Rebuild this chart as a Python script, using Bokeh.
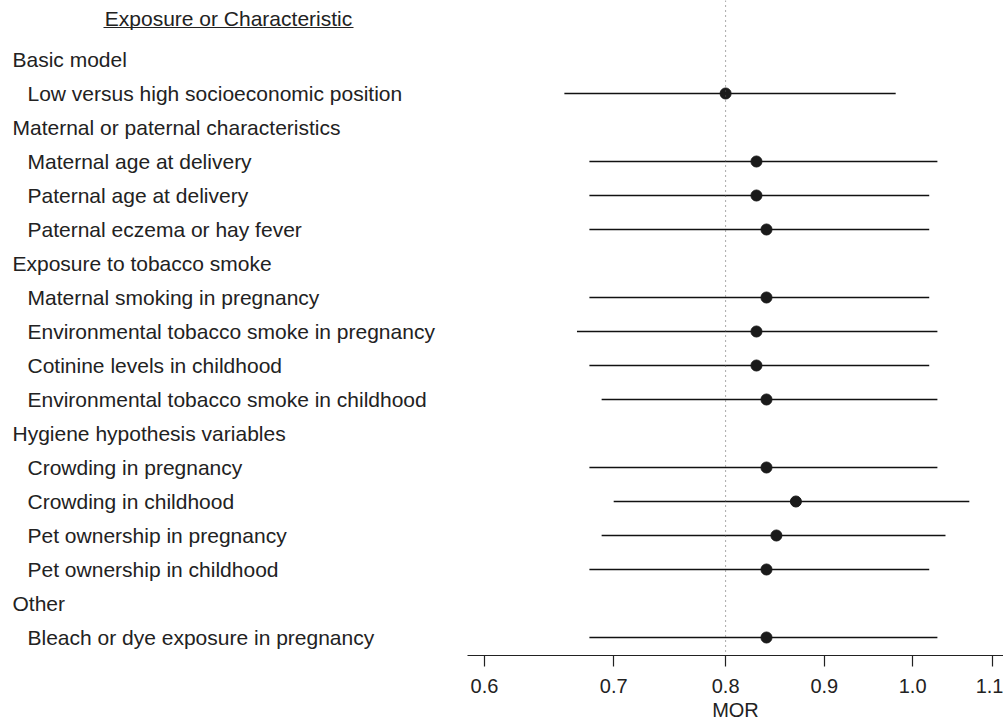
import math
from bokeh.plotting import figure
from bokeh.models import Range1d, FixedTicker, PrintfTickFormatter, Span, ColumnDataSource
from bokeh.layouts import row
from bokeh.embed import file_html
from bokeh.resources import INLINE
from bokeh.core.properties import value

# ---------------- data ----------------
header = "Exposure or Characteristic"
labels = [
    "Basic model",
    "Low versus high socioeconomic position",
    "Maternal or paternal characteristics",
    "Maternal age at delivery",
    "Paternal age at delivery",
    "Paternal eczema or hay fever",
    "Exposure to tobacco smoke",
    "Maternal smoking in pregnancy",
    "Environmental tobacco smoke in pregnancy",
    "Cotinine levels in childhood",
    "Environmental tobacco smoke in childhood",
    "Hygiene hypothesis variables",
    "Crowding in pregnancy",
    "Crowding in childhood",
    "Pet ownership in pregnancy",
    "Pet ownership in childhood",
    "Other",
    "Bleach or dye exposure in pregnancy",
]
is_group = [True, False, True, False, False, False, True, False, False, False, False,
            True, False, False, False, False, True, False]
nan = float("nan")
mor = [nan, 0.80, nan, 0.83, 0.83, 0.84, nan, 0.84, 0.83, 0.83, 0.84,
       nan, 0.84, 0.87, 0.85, 0.84, nan, 0.84]
lower = [nan, 0.66, nan, 0.68, 0.68, 0.68, nan, 0.68, 0.67, 0.68, 0.69,
         nan, 0.68, 0.70, 0.69, 0.68, nan, 0.68]
upper = [nan, 0.98, nan, 1.03, 1.02, 1.02, nan, 1.02, 1.03, 1.02, 1.03,
         nan, 1.03, 1.07, 1.04, 1.02, nan, 1.03]
ticks = [0.6, 0.7, 0.8, 0.9, 1.0, 1.1]
reference_value = 0.8
axis_title = "MOR"

# ---------------- layout ----------------
FONT = "Liberation Sans"
TXT = "#222222"
W_LEFT, W_RIGHT = 467, 536
FRAME_H = 655
ROW0, STEP = 59, 34  # pixel of first row from frame top, spacing
y_bottom = 1 + (FRAME_H - ROW0) / STEP
y_top = 1 - ROW0 / STEP
yr = Range1d(start=y_bottom, end=y_top)

def ky(px):
    return 1 + (px - ROW0) / STEP

# log x-scale: 0.6 at 17px, 1.1 at 525px in the right frame
ppl = (525 - 17) / math.log(ticks[-1] / ticks[0])
x_start = ticks[0] * math.exp(-17 / ppl)
x_end = ticks[0] * math.exp((W_RIGHT - 17) / ppl)

ys = list(range(1, len(labels) + 1))

# ---- left panel: labels ----
pl = figure(frame_width=W_LEFT, frame_height=FRAME_H, x_range=Range1d(0, W_LEFT), y_range=yr,
            output_backend="svg", toolbar_location=None,
            x_axis_location=None, y_axis_location=None,
            min_border_left=0, min_border_right=0, min_border_top=0, min_border_bottom=0)
pl.outline_line_color = None
pl.grid.visible = False

lsrc = ColumnDataSource(dict(x=[12 if g else 27 for g in is_group], y=ys, text=labels))
pl.text(x="x", y="y", text="text", source=lsrc, text_font=value(FONT),
        text_font_size=value("21px"), text_baseline="middle", text_align="left", text_color=TXT)
pl.text(x=[228], y=[ky(18)], text=[header], text_font=value(FONT), text_font_size=value("21px"),
        text_baseline="middle", text_align="center", text_color=TXT)
pl.segment(x0=[103], y0=[ky(27)], x1=[353], y1=[ky(27)], line_color=TXT, line_width=1.2)

# ---- right panel: forest plot ----
pr = figure(frame_width=W_RIGHT, frame_height=FRAME_H, x_axis_type="log",
            x_range=Range1d(x_start, x_end), y_range=yr,
            output_backend="svg", toolbar_location=None, y_axis_location=None,
            min_border_left=0, min_border_right=0, min_border_top=0, min_border_bottom=0)
pr.outline_line_color = None
pr.grid.visible = False

idx = [i for i, g in enumerate(is_group) if not g]
src = ColumnDataSource(dict(y=[ys[i] for i in idx], m=[mor[i] for i in idx],
                            lo=[lower[i] for i in idx], hi=[upper[i] for i in idx]))

pr.add_layout(Span(location=reference_value, dimension="height", line_color="#555555",
                   line_width=1, line_dash="1 4"))
pr.segment(x0="lo", y0="y", x1="hi", y1="y", source=src, line_color="#111111", line_width=1.4)
pr.scatter(x="m", y="y", source=src, size=11, fill_color="#1a1a1a", line_color="#1a1a1a")

ax = pr.xaxis[0]
ax.ticker = FixedTicker(ticks=ticks, minor_ticks=[])
ax.formatter = PrintfTickFormatter(format="%.1f")
ax.axis_line_color = "#222222"
ax.axis_line_width = 1.2
ax.major_tick_line_color = "#222222"
ax.major_tick_line_width = 1.2
ax.major_tick_out = 11
ax.major_tick_in = 0
ax.minor_tick_line_color = None
ax.major_label_standoff = 12
ax.major_label_text_font = FONT
ax.major_label_text_font_size = "20px"
ax.major_label_text_color = TXT
ax.axis_label = axis_title
ax.axis_label_text_font = FONT
ax.axis_label_text_font_size = "20px"
ax.axis_label_text_font_style = "normal"
ax.axis_label_text_color = TXT
ax.axis_label_standoff = 3

layout = row(pl, pr)
open("out.html", "w").write(file_html(layout, INLINE))
